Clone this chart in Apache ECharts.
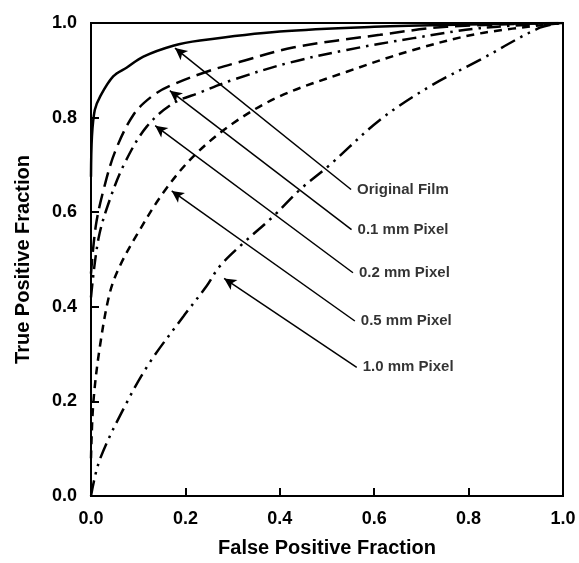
<!DOCTYPE html>
<html>
<head>
<meta charset="utf-8">
<script src="https://cdn.jsdelivr.net/npm/echarts@6/dist/echarts.min.js"></script>
<style>
  html, body { margin: 0; padding: 0; background: #fff; }
  #chart { width: 579px; height: 563px; }
</style>
</head>
<body>
<div id="chart"></div>
<script>
// ROC curves: [false positive fraction, true positive fraction]
const originalFilm = [[0, 0.675], [0.002, 0.76], [0.008, 0.816], [0.019, 0.844], [0.047, 0.887], [0.076, 0.906],
    [0.111, 0.929], [0.174, 0.952], [0.231, 0.963], [0.4, 0.982], [0.6, 0.992], [0.8, 0.997], [1, 1]];
const pixel01 = [[0, 0.47], [0.01, 0.57], [0.026, 0.645], [0.051, 0.728], [0.09, 0.806], [0.129, 0.845], [0.167, 0.867],
    [0.245, 0.897], [0.316, 0.918], [0.428, 0.948], [0.612, 0.975], [0.753, 0.992], [1, 1]];
const pixel02 = [[0, 0.42], [0.016, 0.545], [0.04, 0.627], [0.072, 0.705], [0.118, 0.781], [0.174, 0.83], [0.231, 0.853],
    [0.301, 0.88], [0.42, 0.916], [0.542, 0.943], [0.683, 0.968], [0.824, 0.989], [1, 1]];
const pixel05 = [[0, 0.08], [0.005, 0.198], [0.019, 0.317], [0.04, 0.43], [0.061, 0.486], [0.097, 0.552], [0.153, 0.641],
    [0.217, 0.718], [0.301, 0.788], [0.4, 0.845], [0.542, 0.897], [0.683, 0.943], [0.824, 0.978], [1, 1]];
const pixel10 = [[0, 0], [0.019, 0.078], [0.076, 0.198], [0.125, 0.283], [0.196, 0.38], [0.245, 0.444], [0.273, 0.486],
    [0.323, 0.535], [0.386, 0.591], [0.443, 0.648], [0.506, 0.7], [0.612, 0.795], [0.718, 0.866], [0.824, 0.922],
    [0.951, 0.99], [1, 1]];

// annotations: label text, arrow tail (at the label) and arrow head (on the curve)
const labelNames = ['Original Film', '0.1 mm Pixel', '0.2 mm Pixel', '0.5 mm Pixel', '1.0 mm Pixel'];
const arrowTails = [[0.551, 0.648], [0.552, 0.563], [0.555, 0.472], [0.559, 0.37], [0.563, 0.272]];
const arrowHeads = [[0.178, 0.947], [0.167, 0.857], [0.136, 0.783], [0.171, 0.645], [0.282, 0.46]];

const xTicks = ['0.0', '0.2', '0.4', '0.6', '0.8', '1.0'];

const font = 'Liberation Sans, Arial, Helvetica, sans-serif';

var chartDom = document.getElementById('chart');
var myChart = echarts.init(chartDom);

const curveSeries = (name, data, lineDash) => ({
    name: name,
    type: 'line',
    data: data,
    smooth: 0.35,
    symbol: 'none',
    lineStyle: {color: '#000', width: 2.5, type: lineDash}
});

const arrowLines = labelNames.map((name, i) => [
    {coord: arrowTails[i], symbol: 'none'},
    {coord: arrowHeads[i], symbol: 'arrow', symbolSize: [9, 12]}
]);

const option = {
    animation: false,
    backgroundColor: '#fff',
    grid: {
        left: 91, right: 16, top: 23, bottom: 66,
        show: true, borderColor: '#000', borderWidth: 2
    },
    xAxis: {
        type: 'value',
        min: 0, max: 1, interval: 0.2,
        name: 'False Positive Fraction',
        nameLocation: 'middle',
        nameGap: 42,
        nameTextStyle: {fontFamily: font, fontWeight: 'bold', fontSize: 20, color: '#000'},
        axisLine: {lineStyle: {color: '#000', width: 2}},
        axisTick: {inside: true, length: 8, lineStyle: {color: '#000', width: 2}},
        axisLabel: {
            margin: 14, fontFamily: font, fontWeight: 'bold', fontSize: 18, color: '#000',
            formatter: v => xTicks[Math.round(v * 5)]
        },
        splitLine: {show: false}
    },
    yAxis: {
        type: 'value',
        min: 0, max: 1, interval: 0.2,
        name: 'True Positive Fraction',
        nameLocation: 'middle',
        nameGap: 58,
        nameTextStyle: {fontFamily: font, fontWeight: 'bold', fontSize: 20, color: '#000'},
        axisLine: {lineStyle: {color: '#000', width: 2}},
        axisTick: {inside: true, length: 8, lineStyle: {color: '#000', width: 2}},
        axisLabel: {
            margin: 14, fontFamily: font, fontWeight: 'bold', fontSize: 18, color: '#000',
            formatter: v => v.toFixed(1)
        },
        splitLine: {show: false}
    },
    series: [
        curveSeries('Original Film', originalFilm, 'solid'),
        curveSeries('0.1 mm Pixel', pixel01, [15, 7]),
        curveSeries('0.2 mm Pixel', pixel02, [14, 6, 2.5, 6]),
        curveSeries('0.5 mm Pixel', pixel05, [8, 6]),
        curveSeries('1.0 mm Pixel', pixel10, [16, 6, 2.5, 6, 2.5, 6]),
        {
            name: 'labels',
            type: 'scatter',
            symbolSize: 0,
            data: arrowTails.map((p, i) => ({value: p, name: labelNames[i]})),
            label: {
                show: true, position: 'right', distance: 6,
                formatter: p => p.name,
                fontFamily: font, fontWeight: 'bold', fontSize: 15, color: '#000'
            },
            markLine: {
                silent: true,
                animation: false,
                lineStyle: {color: '#000', width: 1.5, type: 'solid'},
                label: {show: false},
                data: arrowLines
            }
        }
    ]
};

myChart.setOption(option);
</script>
</body>
</html>
